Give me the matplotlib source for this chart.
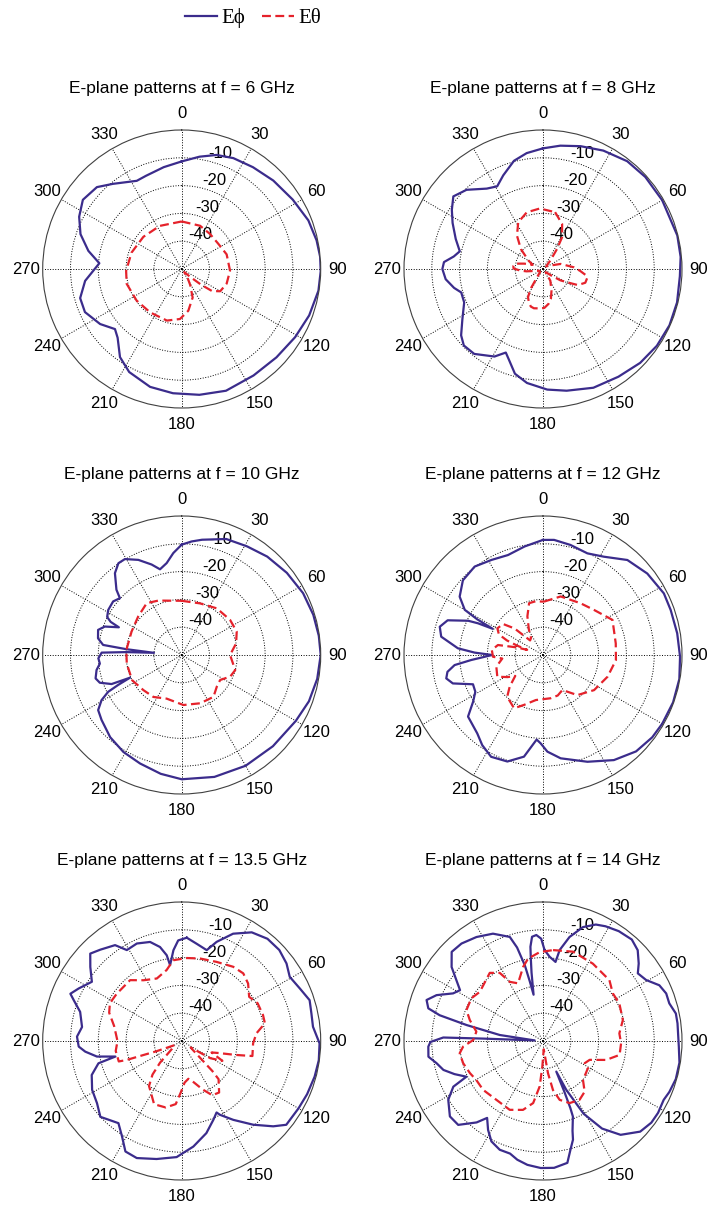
import numpy as np
import matplotlib.pyplot as plt

plt.rcParams['font.family'] = ['Liberation Sans', 'DejaVu Sans']

# angles in degrees (clockwise from top), levels in dB
f6_phi_ang = [0, 9, 17, 25, 35, 46, 58, 69, 78, 85, 91, 99, 110, 121, 133, 146, 160, 172, 184, 195,
              207, 215, 223, 228, 236, 246, 254, 263, 274, 281, 289, 297, 305, 314, 321, 333, 339, 350]
f6_phi_db = [-11.3, -9.1, -7.1, -6.0, -5.3, -4.2, -2.9, -1.2, -0.4, 0, 0, -0.2, -1.2, -2.4, -3.4, -3.8, -3.4, -4.3, -5.2, -6.1,
             -8.4, -11.3, -16.2, -17.7, -14.6, -11.9, -12.0, -15.0, -20.3, -15.8, -11.5, -8.6, -6.6, -7.6, -10.6, -14.4, -14.1, -12.8]
f6_th_ang = [0, 23, 39, 56, 72, 92, 108, 120, 126, 129, 133, 140, 147, 152, 159, 171, 182, 196, 216, 235, 255, 268, 288, 310, 333]
f6_th_db = [-32.9, -33.1, -33.8, -34.0, -33.0, -32.6, -33.0, -34.0, -36.5, -41.0, -46.0, -48.5, -46.0, -43.5, -39.0, -34.8,
            -32.0, -30.7, -30.7, -30.2, -29.5, -30.0, -31.0, -32.0, -32.6]

f8_phi_ang = [0, 8, 17, 27, 38, 48, 60, 76, 85, 93, 104, 114, 124, 134, 145, 157, 169, 178, 188, 195,
              201, 204, 209, 219, 226, 231, 238, 247, 254, 258, 264, 270, 274, 278, 282, 289, 297, 303, 309, 316,
              325, 331, 337, 345, 352]
f8_phi_db = [-6.6, -5.2, -3.8, -2.2, -0.8, -0.5, -0.5, -0.2, -0.3, -0.7, -0.3, -0.2, -0.6, -1.4, -2.7, -3.6, -5.4, -6.6, -8.6, -11.0,
             -15.4, -17.1, -14.0, -10.7, -10.4, -12.1, -15.8, -19.2, -19.4, -17.3, -14.8, -13.8, -14.3, -17.6, -19.4, -16.8, -13.5, -10.9, -8.5, -10.4,
             -14.7, -16.0, -13.4, -9.7, -7.9]
f8_th_ang = [12, 23, 31, 35, 41, 50, 65, 74, 82, 87, 93, 99, 102, 108, 112, 115, 119, 123, 128, 140,
             148, 159, 165, 171, 178, 184, 193, 198, 203, 208, 212, 225, 245, 262, 266, 271, 276, 281, 286, 292,
             300, 312, 322, 332, 344, 357]
f8_th_db = [-29.1, -32.4, -36.7, -41.2, -46.0, -48.5, -47.0, -43.4, -41.2, -38.8, -36.6, -34.0, -33.8, -34.0, -35.4, -36.5, -40.2, -42.5, -46.0, -48.5,
            -45.0, -41.5, -39.0, -37.3, -36.0, -35.8, -35.5, -35.8, -37.0, -38.5, -41.5, -48.5, -48.5, -44.0, -41.8, -39.4, -39.3, -39.9, -43.0, -46.0,
            -44.0, -39.3, -34.8, -31.0, -28.8, -28.2]

f10_phi_ang = [0, 5, 10, 21, 31, 41, 52, 63, 73, 82, 90, 100, 110, 120, 135, 150, 165, 180, 190, 201,
               211, 221, 231, 236.6, 240.6, 243.4, 244.8, 246.3, 247.5, 251.3, 254.8, 260, 264, 267.7, 271.7, 273, 274.5, 276, 277.3, 281.3,
               286.7, 290.3, 293.8, 295, 297, 301.5, 308, 312.6, 315, 320.8, 325.4, 329.4, 335.5, 341.6, 345.8, 350.7, 355.3]
f10_phi_db = [-10.3, -9.0, -7.9, -5.3, -4.4, -3.1, -2.0, -1.0, -0.5, -0.2, 0, -0.5, -1.3, -2.6, -3.6, -4.0, -4.6, -5.3, -6.6, -8.2,
              -9.3, -10.8, -12.9, -14.0, -16.9, -20.4, -24.8, -29.7, -22.7, -18.9, -17.9, -18.9, -20.4, -20.0, -21.2, -30.0, -40.0, -30.0, -21.5, -19.3,
              -18.6, -20.5, -25.3, -21.8, -19.9, -19.0, -18.7, -19.8, -16.8, -12.0, -9.9, -9.9, -12.4, -15.7, -18.2, -16.5, -13.2]
f10_th_ang = [0, 19.5, 37, 54, 67, 78, 90, 105.7, 114, 123, 132, 142.8, 159, 178, 199, 214, 227.6, 243, 261, 275, 295, 311.5, 326, 336.8]
f10_th_db = [-30.5, -30.3, -29.0, -28.5, -28.5, -30.0, -32.6, -30.0, -30.9, -33.5, -33.0, -31.1, -31.4, -32.0, -33.4, -31.8,
             -31.3, -30.0, -30.0, -30.0, -30.1, -29.1, -27.5, -28.7]

f12_phi_ang = [0, 5.5, 14, 23.6, 31.8, 41.6, 52, 63, 70.6, 80.8, 90.7, 100, 110, 120, 127, 136, 146, 157.4, 170.3, 177.4,
               181.5, 184.3, 190.6, 198.5, 207, 214, 220, 230.6, 236.3, 241.5, 247.3, 252.5, 256.4, 260, 263.5, 266, 270, 272, 274.5, 280.2,
               285.3, 290, 294.6, 296, 297.5, 298.5, 300, 305, 313, 322.3, 331.5, 340.7, 350.4]
f12_phi_db = [-8.6, -8.4, -9.2, -10.1, -8.4, -4.3, -2.4, -1.2, -1.3, -1.1, -0.7, -0.2, -0.2, -0.5, -0.8, -1.8, -4.4, -8.4, -12.3, -15.2,
              -18.2, -19.5, -12.8, -9.6, -8.9, -10.9, -13.2, -15.1, -19.8, -22.3, -22.7, -16.0, -14.2, -15.1, -18.0, -24.1, -31.7, -25.4, -19.3, -12.8,
              -11.5, -13.5, -20.4, -24.0, -29.6, -23.0, -17.5, -13.4, -10.6, -9.8, -11.1, -11.9, -10.4]
f12_th_ang = [1, 16.8, 36, 48.6, 63.2, 81, 94, 108.6, 124.5, 139.4, 151, 160, 170, 189, 200.8, 208.5, 220.6, 226.5, 233, 238,
              244.6, 256, 265, 268, 275.6, 282.5, 286, 288, 290, 292, 295, 300.3, 307.8, 313, 318.5, 325, 331, 338, 345, 352]
f12_th_db = [-30.8, -28.0, -27.0, -25.5, -22.0, -23.5, -23.7, -25.5, -27.7, -31.0, -35.6, -34.5, -34.2, -33.6, -30.8, -28.2, -30.2, -33.5, -37.5, -35.0,
             -31.8, -32.7, -35.3, -32.0, -31.5, -33.4, -40.0, -44.0, -40.0, -36.0, -32.5, -31.0, -31.8, -36.0, -43.0, -42.5, -39.5, -35.0, -30.7, -30.5]

f13_phi_ang = [2.8, 8.7, 15.4, 19.4, 25.6, 32.8, 40, 47, 53.5, 59.3, 66, 72.3, 78, 83.8, 91, 98, 105, 113, 120, 128.7,
               133, 139.5, 146.8, 152.6, 154, 158, 165, 173.7, 182.5, 192, 201, 207, 212, 217.6, 227, 233.7, 241.4, 249.3, 255, 256.8,
               259.6, 263.7, 266.9, 272.4, 278, 286, 290.7, 293, 297, 303.4, 309, 313.7, 318.3, 325.2, 328.9, 335.3, 342.3, 347, 350.1, 351.3,
               354.8, 358]
f13_phi_db = [-12.8, -14.6, -16.1, -12.2, -7.2, -3.5, -2.0, -2.0, -3.1, -4.8, -3.5, -1.7, -2.3, -2.5, -0.4, -0.2, -0.5, -1.0, -1.5, -1.8,
              -5.0, -10.4, -16.1, -20.1, -21.4, -19.5, -15.7, -11.8, -8.2, -6.6, -4.9, -5.4, -9.5, -12.7, -10.0, -12.2, -13.3, -15.4, -19.0, -25.5,
              -19.0, -15.1, -12.9, -12.3, -13.8, -12.0, -8.5, -6.5, -8.4, -11.3, -7.7, -4.5, -6.0, -8.0, -11.8, -11.4, -12.6, -15.3, -18.7, -22.4,
              -17.2, -13.8]
f13_th_ang = [3.4, 12.5, 23.8, 34.8, 42.3, 49.1, 56.8, 63.6, 72.3, 78, 84.2, 91.9, 102, 104.5, 108, 111, 116, 121, 126, 130,
              134.4, 136, 144, 150.6, 156.8, 165, 170, 176, 181, 185.4, 193.5, 203.6, 216, 221, 225, 231, 240, 248, 249.7, 251,
              252, 261.4, 270, 282.5, 291.3, 297.8, 306, 319.7, 327.9, 338.3, 348, 354]
f13_th_db = [-20.1, -19.6, -18.9, -17.5, -17.1, -18.4, -21.0, -19.5, -19.3, -19.4, -23.0, -24.3, -24.0, -30.0, -36.0, -38.5, -33.7, -38.0, -46.0, -44.0,
             -34.6, -30.9, -27.1, -27.6, -31.1, -35.0, -36.2, -35.0, -31.5, -27.2, -25.4, -25.2, -30.0, -34.0, -39.0, -45.5, -47.0, -40.0, -36.0, -29.0,
             -26.2, -26.0, -26.9, -25.1, -22.0, -20.8, -21.1, -21.3, -24.2, -25.8, -23.9, -20.8]

f14_phi_ang = [1, 4.5, 9, 10.4, 14.3, 19.3, 24.4, 28.6, 34.6, 41.2, 46.2, 51, 54.5, 59.4, 64.4, 68.9, 73.4, 78.3, 82.5, 92.4,
               99, 106, 112, 116, 122, 127, 133, 140.4, 146, 150.8, 154.5, 156.5, 157.2, 157.8, 158.4, 161.8, 163.1, 165.8, 168.7, 175,
               181, 187.2, 192.2, 196.3, 201.7, 207.2, 211.7, 216, 219.2, 225.3, 231, 238.2, 243, 245, 249.5, 253.8, 258.2, 262.2, 267.2, 269.5,
               272, 272.3, 274, 277.9, 281.8, 284, 285.9, 289.4, 293.3, 297.9, 301.5, 305, 309, 314.3, 320.1, 327.4, 335, 342.3, 344.5, 346.5,
               347.5, 348.5, 350.5, 351.6, 352.4, 354, 356.4, 359]
f14_phi_db = [-17.3, -19.6, -21.2, -16.7, -11.4, -6.6, -4.0, -3.0, -2.0, -1.5, -2.8, -5.7, -8.1, -6.9, -3.6, -2.5, -2.6, -1.2, -1.2, -1.1,
              -0.3, -0.3, -1.0, -1.7, -1.2, -1.2, -2.2, -6.2, -12.0, -20.0, -30.5, -38.0, -30.0, -24.0, -20.8, -16.0, -12.9, -9.7, -5.3, -4.2,
              -4.3, -5.1, -6.3, -7.8, -7.9, -9.4, -12.4, -15.8, -12.2, -7.1, -6.9, -9.9, -13.8, -19.6, -16.0, -12.7, -10.9, -8.4, -8.7, -9.5,
              -14.1, -28.5, -47.0, -34.3, -21.9, -11.7, -7.1, -5.6, -8.3, -13.4, -15.0, -12.0, -7.7, -4.1, -4.3, -5.6, -7.4, -10.7, -15.1, -22.0,
              -28.0, -33.0, -25.0, -20.0, -15.8, -12.3, -11.8, -13.2]
f14_th_ang = [6.3, 18.6, 32.8, 47.5, 55.7, 63.8, 75.3, 84.3, 91.7, 100.3, 106.7, 112, 118, 121.3, 134.3, 140.6, 148.1, 156.8, 164.2, 168.5,
              171.2, 175, 181.5, 184.2, 189, 196.2, 205.8, 218.3, 230.8, 239.7, 246.2, 254.4, 261.6, 266, 270.8, 278, 286, 292, 300.8, 307.9,
              322, 327.6, 330.7, 336.6, 345, 349.7, 357.9]
f14_th_db = [-17.1, -16.1, -16.9, -17.6, -19.6, -19.4, -20.3, -22.4, -21.9, -22.0, -26.3, -31.9, -33.0, -31.1, -29.9, -26.4, -25.1, -25.7, -28.0, -32.0,
             -38.3, -47.0, -40.8, -33.6, -27.4, -24.2, -22.5, -23.0, -22.2, -22.2, -21.3, -20.2, -19.7, -21.2, -24.9, -25.8, -22.6, -20.3, -20.0, -21.2,
             -18.9, -21.0, -25.6, -27.4, -22.4, -19.9, -18.0]

freqs = ['6', '8', '10', '12', '13.5', '14']
panels = [
    (f6_phi_ang, f6_phi_db, f6_th_ang, f6_th_db),
    (f8_phi_ang, f8_phi_db, f8_th_ang, f8_th_db),
    (f10_phi_ang, f10_phi_db, f10_th_ang, f10_th_db),
    (f12_phi_ang, f12_phi_db, f12_th_ang, f12_th_db),
    (f13_phi_ang, f13_phi_db, f13_th_ang, f13_th_db),
    (f14_phi_ang, f14_phi_db, f14_th_ang, f14_th_db),
]
r_ticks = [-40, -30, -20, -10]
theta_ticks = list(range(0, 360, 30))

blue = '#3b2c8c'
red = '#e5222b'


def closed(ang, db):
    # repeat the first point so the pattern closes
    a = np.deg2rad(np.append(ang, ang[0] + 360))
    return a, np.append(db, db[0])


W, H = 708, 1207
R = 139
col_x = [181.7, 543]
row_y = [269, 655, 1041]

fig = plt.figure(figsize=(W / 100, H / 100), dpi=100)

for i, (pa, pd, ta, td) in enumerate(panels):
    cx = col_x[i % 2]
    cy = row_y[i // 2]
    ax = fig.add_axes([(cx - R) / W, (H - cy - R) / H, 2 * R / W, 2 * R / H], projection='polar')
    ax.set_theta_zero_location('N')
    ax.set_theta_direction(-1)

    a, d = closed(pa, pd)
    l1, = ax.plot(a, d, color=blue, lw=1.6, solid_joinstyle='round', label='E\u03d5')
    a, d = closed(ta, td)
    l2, = ax.plot(a, d, color=red, lw=1.6, ls=(0, (4, 2)), dash_joinstyle='round', label='E\u03b8')

    ax.set_ylim(-50, 0)
    ax.set_yticks(r_ticks)
    ax.set_yticklabels([str(v) for v in r_ticks], fontsize=12)
    ax.set_rlabel_position(14)
    ax.set_xticks(np.deg2rad(theta_ticks))
    ax.set_xticklabels([str(t) for t in theta_ticks], fontsize=12)
    ax.tick_params(axis='x', pad=1.5)
    ax.grid(True, color='k', linestyle=':', linewidth=0.7)
    ax.spines['polar'].set_color('0.25')
    ax.spines['polar'].set_linewidth(0.8)
    ax.text(0.5, 1.148, 'E-plane patterns at f = %s GHz' % freqs[i], transform=ax.transAxes,
            ha='center', va='center', fontsize=12.5)

fig.legend([l1, l2], ['E\u03d5', 'E\u03b8'], loc='center', bbox_to_anchor=(253 / W, 1 - 18 / H),
           ncol=2, frameon=False, handlelength=1.55, handletextpad=0.2, columnspacing=0.8,
           prop={'family': ['Liberation Serif', 'DejaVu Serif'], 'size': 15})

fig.savefig('out.png', dpi=100, facecolor='white')
